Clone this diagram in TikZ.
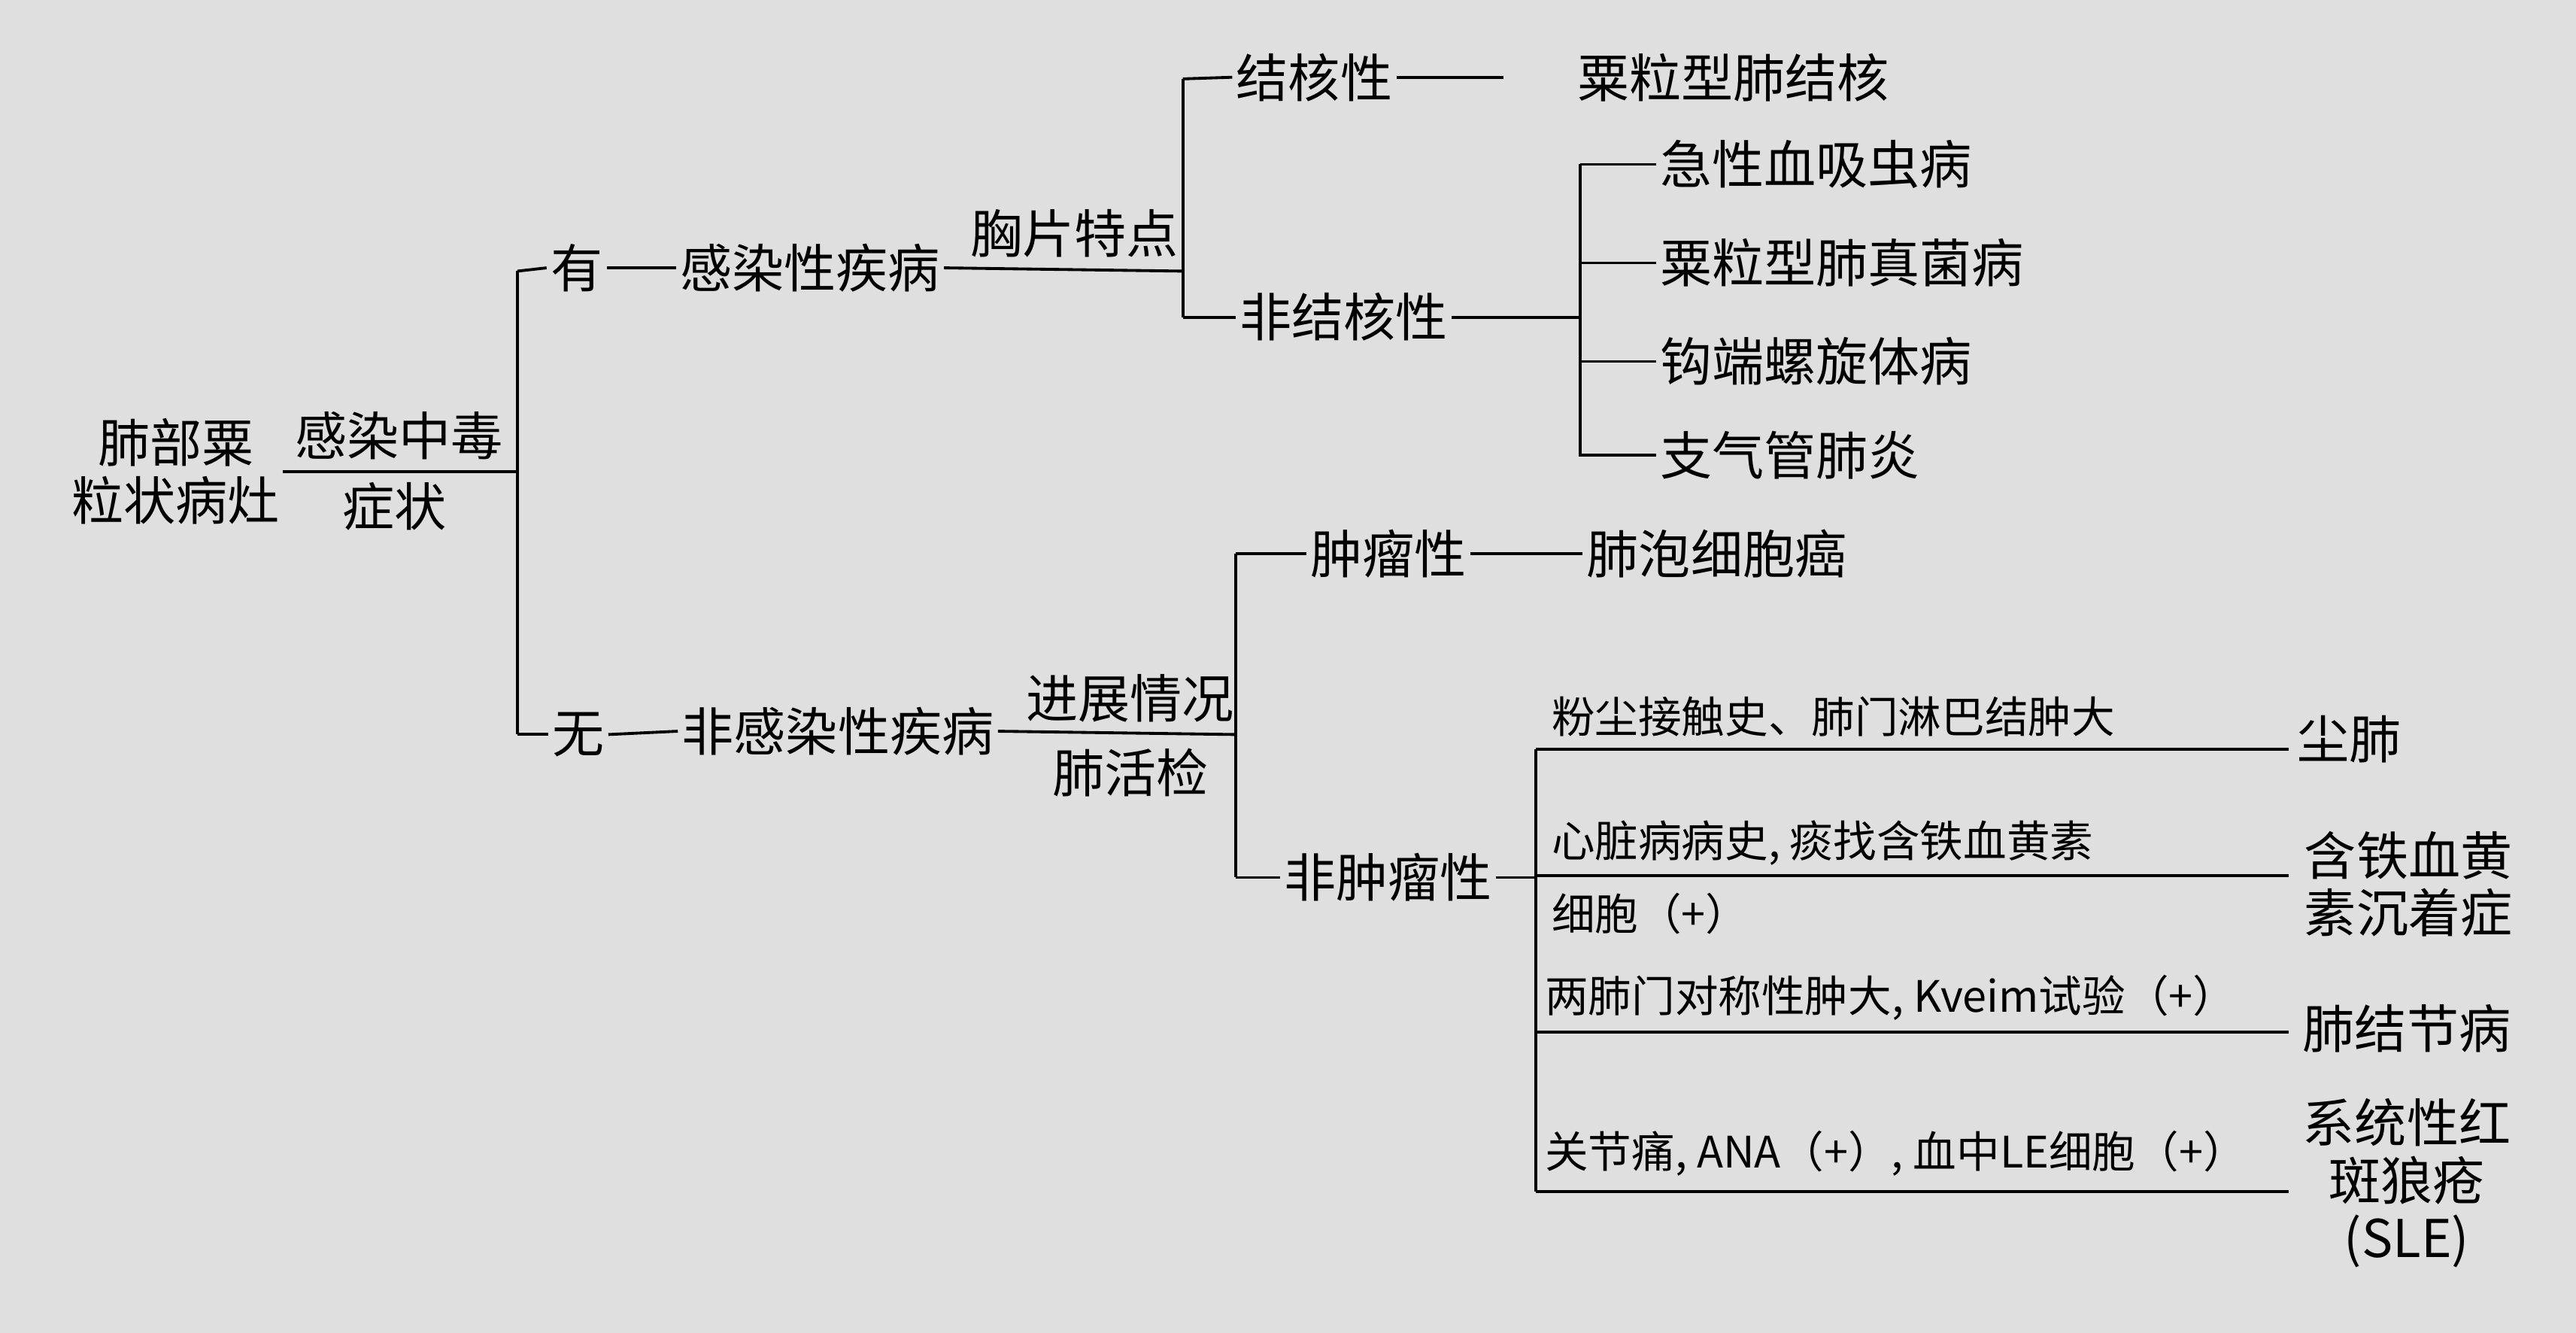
\documentclass[tikz,border=0pt]{standalone}
\usepackage{fontspec}
\setmainfont{Noto Sans CJK SC}
\usetikzlibrary{positioning}
\tikzset{big/.style={inner sep=0.5pt, font=\fontsize{9}{10}\selectfont, align=center},
         small/.style={inner sep=0.5pt, font=\fontsize{7.5}{8.5}\selectfont},
         ln/.style={line width=0.5pt}}
\begin{document}
\begin{tikzpicture}[x=0.01cm, y=-0.01cm]
            \fill[gray!25] (0,0) rectangle (1568,811);
            \useasboundingbox (0,0) rectangle (1568,811);
            % root
            \node[big] (root) at (107,287) {肺部粟\\粒状病灶};
            \node[big] (sym1) at (243,265) {感染中毒};
            \node[big] (sym2) at (240,308) {症状};
            \coordinate (r0) at (172,287);
            \coordinate (r1) at (315,287);
            \draw[ln] (r0) -- (r1);
            \draw[ln] (315,165) -- (315,447);
            % infection branch
            \node[big] (you) at (351,163) {有};
            \node[big] (inf) at (493,163) {感染性疾病};
            \draw[ln] (315,165) -- (you.west);
            \draw[ln] (you.east) -- (inf.west);
            \node[big] (xp) at (654,142) {胸片特点};
            \draw[ln] (inf.east) -- (720,165);
            \draw[ln] (720,48) -- (720,193);
            \node[big] (tb) at (800,47) {结核性};
            \node[big] (tb1) at (1055,47) {粟粒型肺结核};
            \draw[ln] (720,48) -- (tb.west);
            \draw[ln] (tb.east) -- ([xshift=-12]tb1.west);
            \node[big] (ntb) at (818,193) {非结核性};
            \draw[ln] (720,193) -- (ntb.west);
            \draw[ln] (ntb.east) -- (962,193);
            \draw[ln] (962,100) -- (962,278);
            \foreach \y/\t/\n in {100/急性血吸虫病/a, 160/粟粒型肺真菌病/b, 220/钩端螺旋体病/c, 277/支气管肺炎/d}{
              \node[big, anchor=west] (ntb\n) at (1008,\y) {\t};
              \draw[ln] (962,\y) -- (ntb\n.west);
            }
            % non-infection branch
            \node[big] (wu) at (352,447) {无};
            \node[big] (ninf) at (510,445) {非感染性疾病};
            \draw[ln] (315,447) -- (wu.west);
            \draw[ln] (wu.east) -- (ninf.west);
            \node[big] (prog) at (688,425) {进展情况};
            \node[big] (bio) at (688,470) {肺活检};
            \draw[ln] (ninf.east) -- (752,447);
            \draw[ln] (752,337) -- (752,534);
            \node[big] (tum) at (845,337) {肿瘤性};
            \node[big] (tum1) at (1045,337) {肺泡细胞癌};
            \draw[ln] (752,337) -- (tum.west);
            \draw[ln] (tum.east) -- (tum1.west);
            \node[big] (ntum) at (845,534) {非肿瘤性};
            \draw[ln] (752,534) -- (ntum.west);
            \draw[ln] (ntum.east) -- (935,534);
            \draw[ln] (935,456) -- (935,725);
            % non-tumour rows
            \foreach \y in {456,533,628,725}{ \draw[ln] (935,\y) -- (1393,\y); }
            \node[small, anchor=west] (c1) at (942,436) {粉尘接触史、肺门淋巴结肿大};
            \node[big] (d1) at (1430,450) {尘肺};
            \node[small, anchor=west] (c2) at (942,513) {心脏病病史, 痰找含铁血黄素};
            \node[small, anchor=west] (c2b) at (942,556) {细胞（+）};
            \node[big] (d2) at (1466,538) {含铁血黄\\素沉着症};
            \node[small, anchor=west] (c3) at (938,607) {两肺门对称性肿大, Kveim试验（+）};
            \node[big] (d3) at (1465,626) {肺结节病};
            \node[small, anchor=west] (c4) at (938,702) {关节痛, ANA（+）, 血中LE细胞（+）};
            \node[big] (d4) at (1465,720) {系统性红\\斑狼疮\\(SLE)};
        \end{tikzpicture}
\end{document}
